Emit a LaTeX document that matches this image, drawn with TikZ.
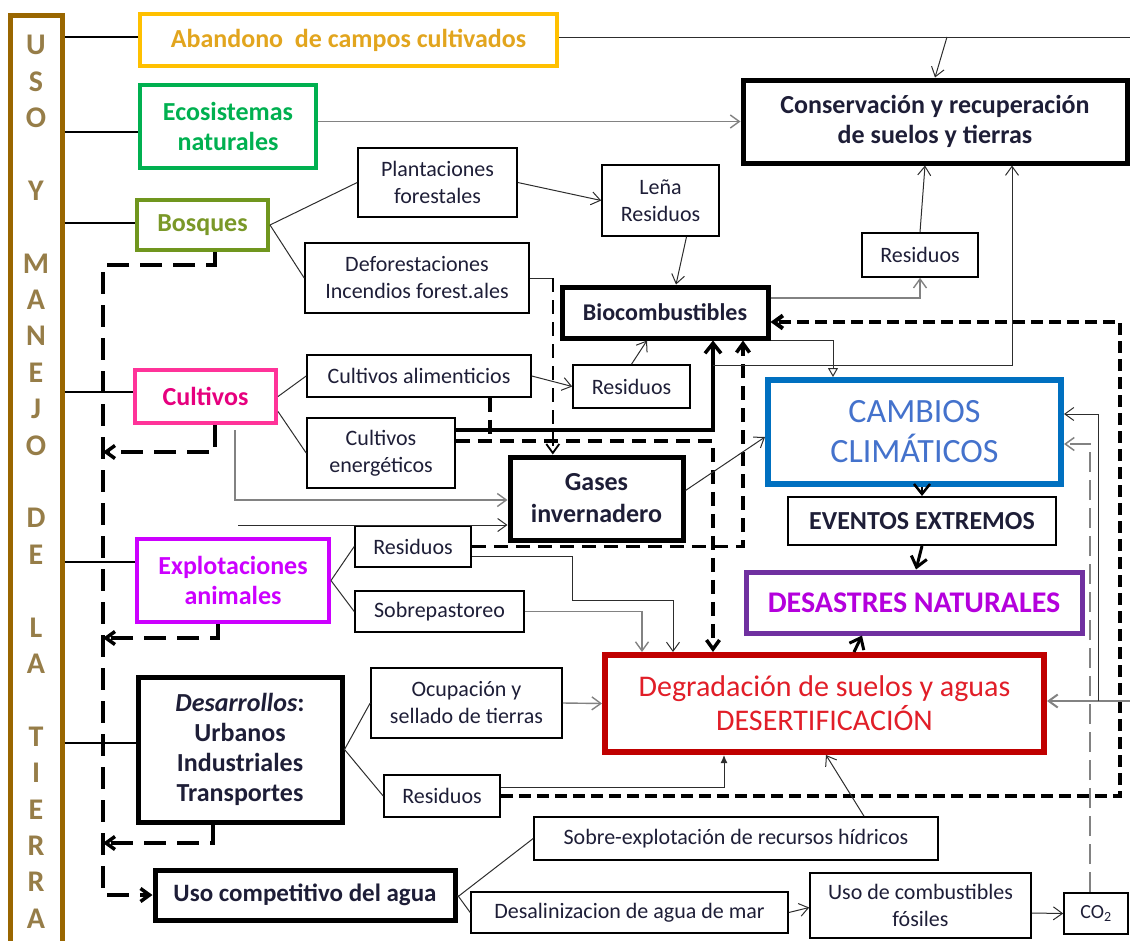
\documentclass[tikz,border=0pt]{standalone}
\usepackage{fontspec}
\setmainfont{Carlito}
\usepackage{tikz}
\usetikzlibrary{arrows.meta}
\definecolor{ink}{RGB}{30,30,55}
\definecolor{wirec}{RGB}{45,45,45}
\definecolor{wiregray}{RGB}{130,130,130}
\definecolor{cUso}{RGB}{153,102,0}
\definecolor{cUsoT}{RGB}{150,125,72}
\definecolor{cAband}{RGB}{255,192,0}
\definecolor{cAbandT}{RGB}{226,165,30}
\definecolor{cEco}{RGB}{0,176,80}
\definecolor{cBosq}{RGB}{112,150,30}
\definecolor{cBosqT}{RGB}{122,152,40}
\definecolor{cCult}{RGB}{255,51,153}
\definecolor{cCultT}{RGB}{230,0,126}
\definecolor{cExplo}{RGB}{204,0,255}
\definecolor{cCamb}{RGB}{0,112,192}
\definecolor{cCambT}{RGB}{68,114,204}
\definecolor{cDesas}{RGB}{112,48,160}
\definecolor{cDesasT}{RGB}{180,0,220}
\definecolor{cDegr}{RGB}{192,0,0}
\definecolor{cDegrT}{RGB}{225,30,40}

\begin{document}
\begin{tikzpicture}[x=1pt, y=-1pt, >={Straight Barb[length=9pt,width=13pt]},
  sbox/.style={draw, line width=1.6pt, text=ink, font=\fontsize{22}{27}\selectfont, align=center, inner sep=0pt},
  bbox/.style={draw, line width=5pt, text=ink, font=\bfseries\fontsize{26}{30}\selectfont, align=center, inner sep=0pt},
  usoletter/.style={text=cUsoT, font=\bfseries\fontsize{30}{30}\selectfont, inner sep=0pt},
  stem/.style={line width=2.5pt},
  wire/.style={line width=1pt, draw=wirec},
  gwire/.style={line width=1.4pt, draw=wiregray},
  fatarr/.style={->, line width=3.5pt, >={Straight Barb[length=10pt,width=16pt]}},
  ldash/.style={line width=3.5pt, dash pattern=on 22pt off 11pt},
  bdash/.style={line width=4pt, dash pattern=on 12pt off 6pt},
  mdash/.style={line width=3.5pt, dash pattern=on 14pt off 8pt},
  tdash/.style={line width=1.8pt, dash pattern=on 14pt off 8pt},
  cdash/.style={line width=1.5pt, draw=wiregray, dash pattern=on 20pt off 8pt}]
  \useasboundingbox (0,0) rectangle (1130,940);
  \node[draw=cUso, line width=5pt, minimum width=52, minimum height=945, inner sep=0pt] (uso) at (36,487.5) {};
  \foreach \ch/\k in {U/0,S/1,O/2,Y/4,M/6,A/7,N/8,E/9,J/10,O/11,D/13,E/14,L/16,A/17,T/19,I/20,E/21,R/22,R/23,A/24}
    \node[usoletter] (u\k) at (36,{45+36.4*\k}) {\ch};
  \node[bbox, draw=cAband, line width=4pt, text=cAbandT, minimum width=417, minimum height=52] (aband) at (348.5,40) {Abandono~ de campos cultivados};
  \node[bbox, draw=cEco, line width=4pt, text=cEco, minimum width=176, minimum height=83] (ecos) at (228,126.5) {Ecosistemas\\naturales};
  \node[bbox, draw=cBosq, line width=4pt, text=cBosqT, minimum width=131, minimum height=50] (bosq) at (202.5,225) {Bosques};
  \node[bbox, draw=cCult, line width=4pt, text=cCultT, minimum width=141, minimum height=53] (cult) at (205.5,396.5) {Cultivos};
  \node[bbox, draw=cExplo, line width=4pt, text=cExplo, minimum width=192, minimum height=83] (explo) at (233,580.5) {Explotaciones\\animales};
  \node[bbox, minimum width=204, minimum height=145] (desa) at (240,749.5) {\textit{Desarrollos}:\\Urbanos\\Industriales\\Transportes};
  \node[bbox, font=\bfseries\fontsize{25}{30}\selectfont, minimum width=300, minimum height=50] (agua) at (305,895) {Uso competitivo del agua};
  \node[sbox, minimum width=159, minimum height=69] (plant) at (437.5,182.5) {Plantaciones\\forestales};
  \node[sbox, minimum width=224, minimum height=70] (defor) at (417,278) {Deforestaciones\\Incendios forest.ales};
  \node[sbox, minimum width=117, minimum height=71] (lena) at (660.5,200.5) {Leña\\Residuos};
  \node[sbox, minimum width=116, minimum height=44] (res1) at (920,255) {Residuos};
  \node[bbox, font=\bfseries\fontsize{24}{28}\selectfont, minimum width=206, minimum height=51] (bioc) at (665,312.5) {Biocombustibles};
  \node[bbox, minimum width=384, minimum height=83] (cons) at (935,121.5) {Conservación y recuperación\\de suelos y tierras};
  \node[sbox, minimum width=224, minimum height=42] (calim) at (419,376) {Cultivos alimenticios};
  \node[sbox, minimum width=117, minimum height=43] (res2) at (631.5,386.5) {Residuos};
  \node[sbox, minimum width=148, minimum height=70] (cener) at (381,453) {Cultivos\\energéticos};
  \node[bbox, font=\bfseries\fontsize{26}{32}\selectfont, minimum width=173, minimum height=83] (gases) at (596.5,498.5) {Gases\\invernadero};
  \node[bbox, draw=cCamb, line width=6pt, text=cCambT, font=\fontsize{34}{40}\selectfont, minimum width=293, minimum height=104] (camb) at (914.5,432) {CAMBIOS\\CLIMÁTICOS};
  \node[bbox, line width=2pt, minimum width=268, minimum height=48] (event) at (922,521) {EVENTOS EXTREMOS};
  \node[bbox, draw=cDesas, text=cDesasT, font=\bfseries\fontsize{30}{34}\selectfont, minimum width=336, minimum height=61] (desas) at (914,602.5) {DESASTRES NATURALES};
  \node[sbox, minimum width=116, minimum height=41] (res3) at (413,546.5) {Residuos};
  \node[sbox, minimum width=169, minimum height=41] (sobrep) at (439.5,611.5) {Sobrepastoreo};
  \node[sbox, minimum width=191, minimum height=70] (ocup) at (466.5,703) {Ocupación y\\sellado de tierras};
  \node[bbox, draw=cDegr, line width=6pt, text=cDegrT, font=\fontsize{30}{34}\selectfont, minimum width=439, minimum height=97] (degr) at (824.5,703.5) {Degradación de suelos y aguas\\DESERTIFICACIÓN};
  \node[sbox, minimum width=116, minimum height=42] (res4) at (442,796) {Residuos};
  \node[sbox, minimum width=404, minimum height=43] (sobrex) at (736,838.5) {Sobre-explotación de recursos hídricos};
  \node[sbox, minimum width=317, minimum height=41] (desal) at (629.5,912.5) {Desalinizacion de agua de mar};
  \node[sbox, minimum width=221, minimum height=65] (comb) at (920.5,905.5) {Uso de combustibles\\fósiles};
  \node[sbox, font=\fontsize{20}{24}\selectfont, minimum width=64, minimum height=41] (co2) at (1096,913.5) {CO\textsubscript{2}};

  \foreach \b/\y in {aband/37,ecos/132,bosq/223,cult/392,explo/562,desa/743}
    \draw[stem] (uso.east |- 0,\y) -- (\b.west |- 0,\y);
  \coordinate (topend) at (1130,37);
  \coordinate (topfork) at (947,37);
  \draw[wire] (aband.east |- topend) -- (topend);
  \draw[wire, ->] (topfork) -- (cons.north);
  \draw[gwire, ->] (ecos.east |- cons.west) -- (cons.west);
  \draw[wire] (bosq.east) -- (plant.west);
  \draw[wire] (bosq.east) -- (defor.west);
  \draw[wire, ->] (plant.east) -- (lena.west);
  \draw[wire, ->] ([xshift=26]lena.south) -- ([xshift=11]bioc.north);
  \draw[wire] (defor.east) -- ++(23,0) coordinate (dfk);
  \draw[tdash, ->] (dfk) -- (dfk |- gases.north);
  \draw[wire] (cult.east) -- (calim.west);
  \draw[wire] ([yshift=-15]cult.east) -- (cener.west);
  \draw[wire, ->] (calim.east) -- (res2.west);
  \draw[wire, ->] (res2.north) -- ([xshift=-18]bioc.south);
  \draw[fatarr] (cener.east |- 0,430) -| ([xshift=48]bioc.south);
  \draw[mdash] ([xshift=71]calim.south) -- ++(0,44);
  \draw[mdash, ->] (cener.east |- 0,441) -| ([xshift=-111.5]degr.north);
  \draw[wire] (explo.east) -- (res3.west);
  \draw[wire] (explo.east) -- (sobrep.west);
  \draw[mdash, ->] (res3.east) -| ([xshift=78]bioc.south);
  \draw[wire, ->] ([yshift=-10]res3.east) -| (572,600) -| ([xshift=-151.5]degr.north);
  \draw[gwire, ->] (sobrep.east) -| ([xshift=-182.5]degr.north);
  \coordinate (cfoot) at (235,430);
  \coordinate (efoot) at (238,525);
  \draw[gwire, ->] (cfoot) |- ([yshift=-1.5]gases.west);
  \draw[wire, ->] (efoot) -- (efoot -| gases.west);
  \draw[wire, ->] ([yshift=8]gases.east) -- ([yshift=-5]camb.west);
  \draw[gwire, ->] ([yshift=14.5]bioc.east) -| (res1.south);
  \draw[wire, -{Triangle[open,length=9pt,width=10pt]}] (bioc.south east) -| ([xshift=-81.5]camb.north);
  \path ([xshift=48]bioc.south) ++(0,25) coordinate (fork);
  \draw[wire, ->] (fork) -| ([xshift=77]cons.south);
  \draw[wire, ->] (res1.north) -- ([xshift=-10]cons.south);
  \draw[fatarr, line width=2.5pt] ([xshift=7.5]camb.south) -- (event.north);
  \draw[fatarr, line width=3pt] (event.south) -- ([xshift=2]desas.north);
  \draw[fatarr, line width=3pt] ([xshift=29.5]degr.north) -- ([xshift=-52]desas.south);
  \draw[wire] (desa.east) -- (ocup.west);
  \draw[wire] (desa.east) -- (res4.west);
  \draw[gwire, ->] (ocup.east) -- (degr.west);
  \draw[wire, -{Latex[length=8pt,width=7pt]}] ([yshift=9]res4.east) -| ([xshift=-100.5]degr.south);
  \coordinate (bigc) at (1120,322);
  \draw[bdash, ->] (res4.east) -| (bigc) -- ([yshift=-9.5]bioc.east);
  \draw[wire, ->] ([xshift=128]sobrex.north) -- ([xshift=1.5]degr.south);
  \draw[wire] ([yshift=-2]agua.east) -- (sobrex.west);
  \draw[wire] (agua.east) -- (desal.west);
  \draw[wire, ->] (desal.east) -- ([yshift=-2]comb.west);
  \draw[wire, ->] ([yshift=-7.5]comb.east) -- (co2.west);
  \draw[cdash, ->] ([xshift=-6]co2.north) |- ([yshift=-12]camb.east);
  \coordinate (rin) at (1130,701);
  \coordinate (rfork) at (1098,701);
  \draw[gwire, line width=2pt, ->] (rin) -- ([yshift=2.5]degr.east);
  \draw[wire, ->] (rfork) |- ([yshift=18]camb.east);
  \coordinate (lcorner) at (103,265);
  \draw[ldash, ->] ([xshift=12.5]bosq.south) |- (lcorner) |- (agua.west);
  \draw[ldash, ->] ([xshift=9.5]cult.south) |- (lcorner |- 0,452);
  \draw[ldash, ->] ([xshift=-15]explo.south) |- (lcorner |- 0,638);
  \draw[ldash, ->] ([xshift=-27]desa.south) |- (lcorner |- 0,843);
\end{tikzpicture}
\end{document}
